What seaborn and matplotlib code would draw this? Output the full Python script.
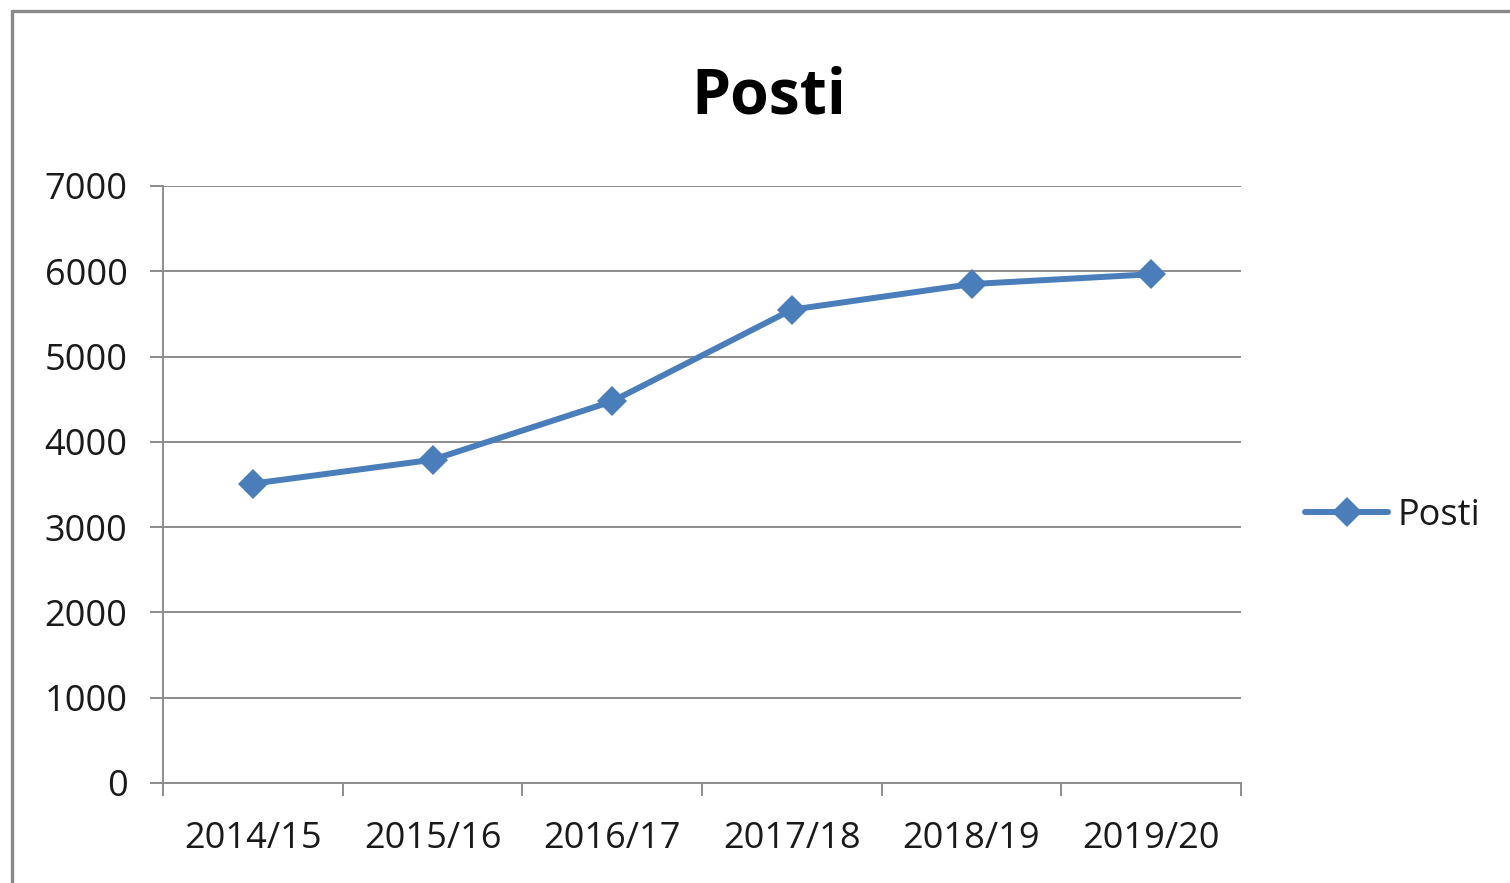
import matplotlib
matplotlib.use("Agg")
import matplotlib.pyplot as plt
from matplotlib.lines import Line2D
import seaborn as sns
import pandas as pd

# Data
seasons = ["2014/15", "2015/16", "2016/17", "2017/18", "2018/19", "2019/20"]
posti = [3510, 3790, 4475, 5550, 5850, 5965]
y_ticks = [0, 1000, 2000, 3000, 4000, 5000, 6000, 7000]
series_name = "Posti"
title = "Posti"

sns.set_theme(style="white")
plt.rcParams["font.family"] = ["Open Sans", "DejaVu Sans"]

W, H = 1510, 883
fig = plt.figure(figsize=(W / 100, H / 100), dpi=100)
ax = fig.add_axes([163 / W, 1 - 783 / H, (1241 - 163) / W, (783 - 186) / H])

blue = "#4A7EBB"
grid_c = "#8C8C8C"
text_c = "#1a1a1a"
fs = 26

df = pd.DataFrame({"season": seasons, "value": posti})
df["pos"] = range(len(seasons))
sns.lineplot(data=df, x="pos", y="value", ax=ax, color=blue, linewidth=4.3,
             marker="D", markersize=15.5, markeredgewidth=0, label=series_name,
             zorder=5)

ax.set_xlim(-0.5, len(seasons) - 0.5)
ax.set_ylim(0, 7000)
ax.set_yticks(y_ticks)
ax.set_yticklabels([str(v) for v in y_ticks])
for v in y_ticks[1:]:
    ax.axhline(v, color=grid_c, linewidth=1.4, zorder=1)

# x ticks: marks at boundaries, labels at centres
ax.set_xticks([i - 0.5 for i in range(len(seasons) + 1)])
ax.set_xticklabels([])
ax.set_xticks(list(range(len(seasons))), minor=True)
ax.set_xticklabels(seasons, minor=True)
ax.tick_params(axis="x", which="major", direction="out", length=9.5, width=1.4,
               color=grid_c, bottom=True)
ax.tick_params(axis="x", which="minor", length=0, pad=27, labelsize=fs,
               labelcolor=text_c)
ax.tick_params(axis="y", which="major", direction="out", length=9.5, width=1.4,
               color=grid_c, left=True, pad=16, labelsize=fs, labelcolor=text_c)

ax.set_xlabel("")
ax.set_ylabel("")
for s in ["top", "right"]:
    ax.spines[s].set_visible(False)
for s in ["left", "bottom"]:
    ax.spines[s].set_color(grid_c)
    ax.spines[s].set_linewidth(1.4)

leg = ax.legend(loc="center left", bbox_to_anchor=(1305 / W, 1 - 516 / H),
                bbox_transform=fig.transFigure, frameon=False, fontsize=fs,
                handlelength=2.3, handletextpad=0.25, borderpad=0, borderaxespad=0)
for t in leg.get_texts():
    t.set_color(text_c)

fig.text(769 / W, 1 - 97 / H, title, ha="center", va="center", fontsize=45,
         fontweight="bold", color="black")

# figure border (left and top visible)
fig.add_artist(Line2D([12 / W, 12 / W], [0, 1 - 10.5 / H], transform=fig.transFigure,
                      color="#8A8A8A", linewidth=2.4))
fig.add_artist(Line2D([12 / W, 1], [1 - 10.5 / H, 1 - 10.5 / H], transform=fig.transFigure,
                      color="#8A8A8A", linewidth=2.4))

fig.savefig("out.png", dpi=100, facecolor="white")
